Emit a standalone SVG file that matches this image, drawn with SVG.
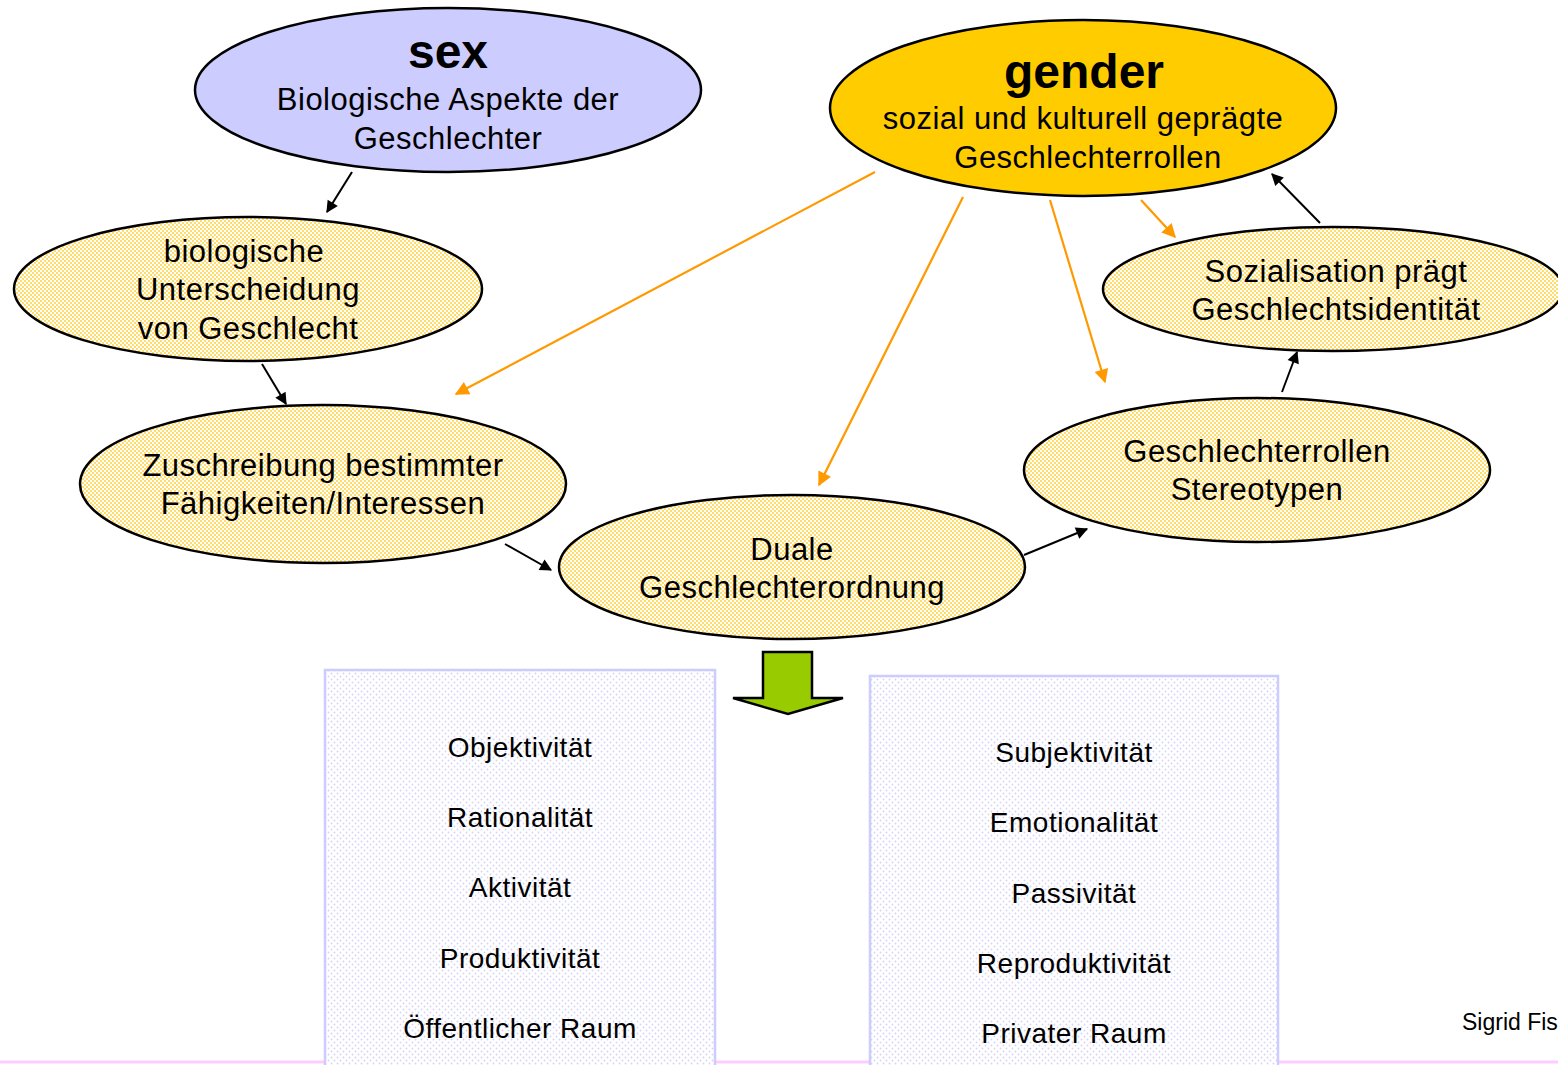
<svg xmlns="http://www.w3.org/2000/svg" width="1558" height="1065" viewBox="0 0 1558 1065">
<defs>
<pattern id="ydots" width="4" height="4" patternUnits="userSpaceOnUse">
<rect width="4" height="4" fill="#ffffff"/>
<circle cx="1" cy="1" r="0.9" fill="#ffcc22"/>
<circle cx="3" cy="3" r="0.9" fill="#ffcc22"/>
</pattern>
<pattern id="bdots" width="6" height="6" patternUnits="userSpaceOnUse">
<rect width="6" height="6" fill="#ffffff"/>
<circle cx="1.5" cy="1.5" r="0.9" fill="#d4d4f6"/>
<circle cx="4.5" cy="4.5" r="0.9" fill="#d4d4f6"/>
</pattern>
<marker id="ab" viewBox="0 0 10 10" refX="9" refY="5" markerWidth="15" markerHeight="12" orient="auto" markerUnits="userSpaceOnUse" style="overflow:visible">
<path d="M0,0 L10,5 L0,10 z" fill="#000"/>
</marker>
<marker id="ao" viewBox="0 0 10 10" refX="9" refY="5" markerWidth="16" markerHeight="14" orient="auto" markerUnits="userSpaceOnUse" style="overflow:visible">
<path d="M0,0 L10,5 L0,10 z" fill="#ff9900"/>
</marker>
</defs>
<style>
text{font-family:"Liberation Sans",Arial,sans-serif;fill:#000;text-anchor:middle}
.node{stroke:#000;stroke-width:2.5}
.y{fill:url(#ydots)}
.t{font-size:31px;letter-spacing:0.5px}
.title{font-weight:bold}
.box{fill:url(#bdots);stroke:#ccccff;stroke-width:2.5}
.bt{font-size:28px;letter-spacing:0.5px}
.blk{stroke:#000;stroke-width:2;fill:none}
.org{stroke:#ff9900;stroke-width:2.2;fill:none}
</style>
<rect width="1558" height="1065" fill="#fff"/>
<line x1="0" y1="1062" x2="1558" y2="1062" stroke="#ffccff" stroke-width="3"/>

<g id="box-left">
<rect class="box" x="325" y="670" width="390" height="400"/>
<text class="bt" x="520" y="757">Objektivität</text>
<text class="bt" x="520" y="827">Rationalität</text>
<text class="bt" x="520" y="897">Aktivität</text>
<text class="bt" x="520" y="968">Produktivität</text>
<text class="bt" x="520" y="1038">Öffentlicher Raum</text>
</g>
<g id="box-right">
<rect class="box" x="870" y="676" width="408" height="394"/>
<text class="bt" x="1074" y="762">Subjektivität</text>
<text class="bt" x="1074" y="832">Emotionalität</text>
<text class="bt" x="1074" y="903">Passivität</text>
<text class="bt" x="1074" y="973">Reproduktivität</text>
<text class="bt" x="1074" y="1043">Privater Raum</text>
</g>

<g id="sex">
<ellipse class="node" cx="448" cy="90" rx="253" ry="82" fill="#ccccff"/>
<text class="title" x="448" y="68" font-size="48">sex</text>
<text class="t" x="448" y="110">Biologische Aspekte der</text>
<text class="t" x="448" y="149">Geschlechter</text>
</g>
<g id="gender">
<ellipse class="node" cx="1083" cy="108" rx="253" ry="88" fill="#ffcc00"/>
<text class="title" x="1084" y="88" font-size="48">gender</text>
<text class="t" x="1083" y="129">sozial und kulturell geprägte</text>
<text class="t" x="1088" y="168">Geschlechterrollen</text>
</g>
<g id="biologische">
<ellipse class="node y" cx="248" cy="289" rx="234" ry="72"/>
<text class="t" x="244" y="262">biologische</text>
<text class="t" x="248" y="300">Unterscheidung</text>
<text class="t" x="248" y="339">von Geschlecht</text>
</g>
<g id="zuschreibung">
<ellipse class="node y" cx="323" cy="484" rx="243" ry="79"/>
<text class="t" x="323" y="476">Zuschreibung bestimmter</text>
<text class="t" x="323" y="514">Fähigkeiten/Interessen</text>
</g>
<g id="duale">
<ellipse class="node y" cx="792" cy="567" rx="233" ry="72"/>
<text class="t" x="792" y="560">Duale</text>
<text class="t" x="792" y="598">Geschlechterordnung</text>
</g>
<g id="stereotypen">
<ellipse class="node y" cx="1257" cy="470" rx="233" ry="72"/>
<text class="t" x="1257" y="462">Geschlechterrollen</text>
<text class="t" x="1257" y="500">Stereotypen</text>
</g>
<g id="sozialisation">
<ellipse class="node y" cx="1333" cy="289" rx="230" ry="62"/>
<text class="t" x="1336" y="282">Sozialisation prägt</text>
<text class="t" x="1336" y="320">Geschlechtsidentität</text>
</g>

<g id="down-arrow">
<path d="M763,652 L812,652 L812,698 L843,698 L788,714 L733,698 L763,698 Z" fill="#99cc00" stroke="#000" stroke-width="2.5" stroke-linejoin="miter"/>
</g>

<g id="connectors">
<line class="blk" x1="352" y1="172" x2="327" y2="212" marker-end="url(#ab)"/>
<line class="blk" x1="262" y1="364" x2="286" y2="404" marker-end="url(#ab)"/>
<line class="blk" x1="505" y1="544" x2="551" y2="570" marker-end="url(#ab)"/>
<line class="blk" x1="1024" y1="555" x2="1087" y2="529" marker-end="url(#ab)"/>
<line class="blk" x1="1282" y1="392" x2="1297" y2="352" marker-end="url(#ab)"/>
<line class="blk" x1="1320" y1="223" x2="1272" y2="174" marker-end="url(#ab)"/>
<line class="org" x1="875" y1="172" x2="456" y2="394" marker-end="url(#ao)"/>
<line class="org" x1="963" y1="197" x2="819" y2="485" marker-end="url(#ao)"/>
<line class="org" x1="1050" y1="200" x2="1105" y2="382" marker-end="url(#ao)"/>
<line class="org" x1="1141" y1="200" x2="1175" y2="237" marker-end="url(#ao)"/>
</g>

<text x="1462" y="1030" font-size="23" style="text-anchor:start">Sigrid Fis</text>
</svg>
